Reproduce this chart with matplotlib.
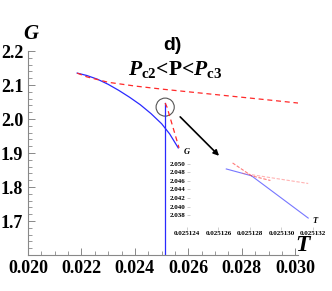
import matplotlib
matplotlib.use('Agg')
import matplotlib.pyplot as plt
from matplotlib.patches import Ellipse
from matplotlib.ticker import MultipleLocator, FixedLocator

plt.rcParams['font.family'] = 'Liberation Serif'
plt.rcParams['mathtext.fontset'] = 'custom'
plt.rcParams['mathtext.it'] = 'Liberation Serif:italic:bold'
plt.rcParams['mathtext.rm'] = 'Liberation Serif:bold'

# main panel data
T_blue = [0.02184, 0.0222, 0.0226, 0.0230, 0.0234, 0.0238, 0.0242, 0.0246, 0.0250, 0.0253, 0.02562]
G_blue = [2.135, 2.128, 2.117, 2.102, 2.084, 2.064, 2.042, 2.016, 1.986, 1.956, 1.915]
T_red_up = [0.02184, 0.0222, 0.0230, 0.0240, 0.0250, 0.0260, 0.0270, 0.0280, 0.0290, 0.0301]
G_red_up = [2.135, 2.124, 2.108, 2.097, 2.088, 2.080, 2.072, 2.064, 2.056, 2.047]
T_red_low = [0.02513, 0.02520, 0.02535, 0.02550, 0.02565]
G_red_low = [2.047, 2.035, 1.995, 1.955, 1.915]
T_vert = [0.02513, 0.02513]
G_vert = [2.047, 1.58]

# inset data
Ti_blue1 = [0.0251265, 0.0251281]
Gi_blue1 = [2.0488, 2.0472]
Ti_blue2 = [0.0251281, 0.0251317]
Gi_blue2 = [2.0472, 2.0373]
Ti_red1 = [0.0251269, 0.0251281, 0.0251293]
Gi_red1 = [2.0502, 2.0472, 2.0461]
Ti_red2 = [0.0251275, 0.0251317]
Gi_red2 = [2.0478, 2.0454]

fig = plt.figure(figsize=(3.32, 2.91), dpi=100)
ax = fig.add_axes([0.0843, 0.1237, 0.8133, 0.701])

ax.plot(T_blue, G_blue, color='#2a2aff', lw=0.9)
ax.plot(T_vert, G_vert, color='#2a2aff', lw=0.9)
ax.plot(T_red_up, G_red_up, color='#ff2a2a', lw=0.9, ls=(0, (4, 3)))
ax.plot(T_red_low, G_red_low, color='#ff2a2a', lw=0.9, ls=(0, (4, 3)))

ax.add_patch(Ellipse((0.025131, 2.035), 0.00068, 0.053, fill=False,
                     edgecolor='#555555', lw=0.8))
ax.annotate('', xy=(0.02722, 1.886), xytext=(0.02562, 2.012),
            arrowprops=dict(arrowstyle='-|>', color='black', lw=1.2,
                            mutation_scale=8))

ax.set_xlim(0.020, 0.0301)
ax.set_ylim(1.6, 2.2)
ax.set_xticks([0.020, 0.022, 0.024, 0.026, 0.028, 0.030])
ax.set_yticks([1.7, 1.8, 1.9, 2.0, 2.1, 2.2])
ax.xaxis.set_minor_locator(MultipleLocator(0.0005))
ax.yaxis.set_minor_locator(MultipleLocator(0.02))
ax.set_xticklabels(['0.020', '0.022', '0.024', '0.026', '0.028', '0.030'])
ax.set_yticklabels(['1.7', '1.8', '1.9', '2.0', '2.1', '2.2'])
ax.tick_params(which='both', direction='in', color='#888888', labelsize=13)
ax.tick_params(which='major', length=5, width=0.7)
ax.tick_params(which='minor', length=3, width=0.6)
for lab in ax.get_xticklabels() + ax.get_yticklabels():
    lab.set_fontweight('bold')
ax.spines['top'].set_visible(False)
ax.spines['right'].set_visible(False)
ax.spines['left'].set_color('#888888')
ax.spines['bottom'].set_color('#888888')
ax.spines['left'].set_linewidth(0.8)
ax.spines['bottom'].set_linewidth(0.8)

fig.text(0.096, 0.88, r'$G$', fontsize=15, ha='center', va='center')
fig.text(0.915, 0.155, r'$T$', fontsize=17, ha='center', va='center')
fig.text(0.518, 0.845, 'd)', fontsize=14, fontweight='bold', family='Liberation Sans',
         ha='center', va='center')
fig.text(0.527, 0.76, r'$P_{\rm c2}$<P<$P_{\rm c3}$', fontsize=15.5, fontweight='bold',
         ha='center', va='center')

# inset
axi = fig.add_axes([0.563, 0.2096, 0.389, 0.245])
axi.patch.set_alpha(0)
axi.plot(Ti_blue1, Gi_blue1, color='#5555ff', lw=0.8, alpha=0.8)
axi.plot(Ti_blue2, Gi_blue2, color='#5555ff', lw=0.8, alpha=0.8)
axi.plot(Ti_red1, Gi_red1, color='#ff4444', lw=0.8, alpha=0.7, ls=(0, (3, 1.5)))
axi.plot(Ti_red2, Gi_red2, color='#ff6666', lw=0.8, alpha=0.5, ls=(0, (3, 1.5)))
axi.set_xlim(0.025124, 0.0251322)
axi.set_ylim(2.0345, 2.0512)
axi.xaxis.set_major_locator(FixedLocator([0.025124, 0.025126, 0.025128, 0.025130, 0.025132]))
axi.yaxis.set_major_locator(FixedLocator([2.038, 2.040, 2.042, 2.044, 2.046, 2.048, 2.050]))
axi.set_xticklabels(['0.025124', '0.025126', '0.025128', '0.025130', '0.025132'])
axi.set_yticklabels(['2.038', '2.040', '2.042', '2.044', '2.046', '2.048', '2.050'])
axi.tick_params(direction='in', length=2, width=0.4, color='#aaaaaa', labelsize=5, pad=1)
for lab in axi.get_xticklabels() + axi.get_yticklabels():
    lab.set_fontweight('bold')
for s in axi.spines.values():
    s.set_visible(False)
axi.text(0.0, 1.04, r'$G$', transform=axi.transAxes, fontsize=6, ha='center', va='bottom')
axi.text(1.0, 0.07, r'$T$', transform=axi.transAxes, fontsize=6, ha='center', va='bottom')

fig.savefig('out.png', dpi=100)
